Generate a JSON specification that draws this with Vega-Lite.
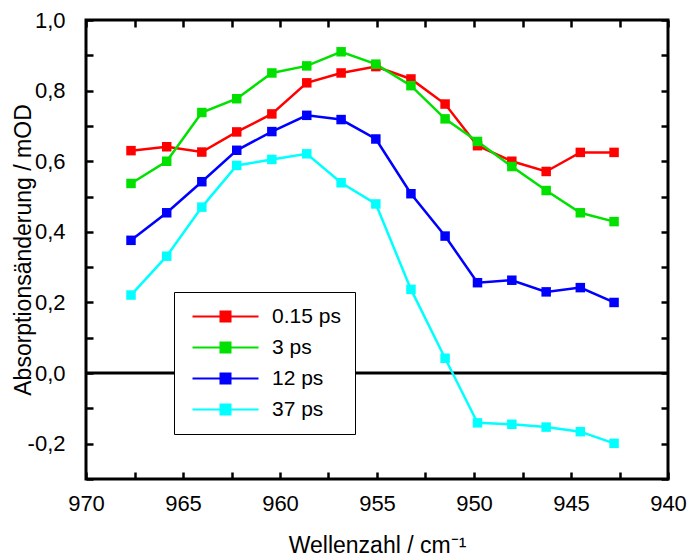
{
  "$schema": "https://vega.github.io/schema/vega-lite/v6.json",
  "width": 582,
  "height": 459,
  "autosize": {"type": "none"},
  "padding": {"left": 86, "top": 20, "right": 22, "bottom": 77},
  "background": "white",
  "config": {
    "view": {"stroke": "black", "strokeWidth": 3},
    "font": "Liberation Sans",
    "axis": {
      "labelFont": "Liberation Sans",
      "titleFont": "Liberation Sans",
      "labelColor": "black",
      "titleColor": "black",
      "ticks": true,
      "tickColor": "black",
      "tickOpacity": 1,
      "tickWidth": 2.5,
      "grid": false,
      "domain": false,
      "labelFlush": false,
      "zindex": 1
    }
  },
  "datasets": {
    "spectra": [
      {"Zeit": "0.15 ps", "x": 967.68, "y": 0.630},
      {"Zeit": "0.15 ps", "x": 965.84, "y": 0.641},
      {"Zeit": "0.15 ps", "x": 964.03, "y": 0.626},
      {"Zeit": "0.15 ps", "x": 962.23, "y": 0.683},
      {"Zeit": "0.15 ps", "x": 960.42, "y": 0.734},
      {"Zeit": "0.15 ps", "x": 958.62, "y": 0.822},
      {"Zeit": "0.15 ps", "x": 956.85, "y": 0.850},
      {"Zeit": "0.15 ps", "x": 955.06, "y": 0.868},
      {"Zeit": "0.15 ps", "x": 953.25, "y": 0.833},
      {"Zeit": "0.15 ps", "x": 951.49, "y": 0.762},
      {"Zeit": "0.15 ps", "x": 949.82, "y": 0.644},
      {"Zeit": "0.15 ps", "x": 948.05, "y": 0.600},
      {"Zeit": "0.15 ps", "x": 946.28, "y": 0.571},
      {"Zeit": "0.15 ps", "x": 944.52, "y": 0.625},
      {"Zeit": "0.15 ps", "x": 942.78, "y": 0.625},
      {"Zeit": "3 ps", "x": 967.68, "y": 0.537},
      {"Zeit": "3 ps", "x": 965.84, "y": 0.600},
      {"Zeit": "3 ps", "x": 964.03, "y": 0.738},
      {"Zeit": "3 ps", "x": 962.23, "y": 0.777},
      {"Zeit": "3 ps", "x": 960.42, "y": 0.850},
      {"Zeit": "3 ps", "x": 958.62, "y": 0.870},
      {"Zeit": "3 ps", "x": 956.85, "y": 0.910},
      {"Zeit": "3 ps", "x": 955.06, "y": 0.875},
      {"Zeit": "3 ps", "x": 953.25, "y": 0.814},
      {"Zeit": "3 ps", "x": 951.49, "y": 0.720},
      {"Zeit": "3 ps", "x": 949.82, "y": 0.656},
      {"Zeit": "3 ps", "x": 948.05, "y": 0.585},
      {"Zeit": "3 ps", "x": 946.28, "y": 0.517},
      {"Zeit": "3 ps", "x": 944.52, "y": 0.454},
      {"Zeit": "3 ps", "x": 942.78, "y": 0.429},
      {"Zeit": "12 ps", "x": 967.68, "y": 0.376},
      {"Zeit": "12 ps", "x": 965.84, "y": 0.454},
      {"Zeit": "12 ps", "x": 964.03, "y": 0.542},
      {"Zeit": "12 ps", "x": 962.23, "y": 0.631},
      {"Zeit": "12 ps", "x": 960.42, "y": 0.684},
      {"Zeit": "12 ps", "x": 958.62, "y": 0.730},
      {"Zeit": "12 ps", "x": 956.85, "y": 0.718},
      {"Zeit": "12 ps", "x": 955.06, "y": 0.663},
      {"Zeit": "12 ps", "x": 953.25, "y": 0.508},
      {"Zeit": "12 ps", "x": 951.49, "y": 0.388},
      {"Zeit": "12 ps", "x": 949.82, "y": 0.256},
      {"Zeit": "12 ps", "x": 948.05, "y": 0.263},
      {"Zeit": "12 ps", "x": 946.28, "y": 0.230},
      {"Zeit": "12 ps", "x": 944.52, "y": 0.242},
      {"Zeit": "12 ps", "x": 942.78, "y": 0.200},
      {"Zeit": "37 ps", "x": 967.68, "y": 0.221},
      {"Zeit": "37 ps", "x": 965.84, "y": 0.331},
      {"Zeit": "37 ps", "x": 964.03, "y": 0.470},
      {"Zeit": "37 ps", "x": 962.23, "y": 0.588},
      {"Zeit": "37 ps", "x": 960.42, "y": 0.605},
      {"Zeit": "37 ps", "x": 958.62, "y": 0.621},
      {"Zeit": "37 ps", "x": 956.85, "y": 0.539},
      {"Zeit": "37 ps", "x": 955.06, "y": 0.479},
      {"Zeit": "37 ps", "x": 953.25, "y": 0.237},
      {"Zeit": "37 ps", "x": 951.49, "y": 0.042},
      {"Zeit": "37 ps", "x": 949.82, "y": -0.141},
      {"Zeit": "37 ps", "x": 948.05, "y": -0.145},
      {"Zeit": "37 ps", "x": 946.28, "y": -0.153},
      {"Zeit": "37 ps", "x": 944.52, "y": -0.166},
      {"Zeit": "37 ps", "x": 942.78, "y": -0.199}
    ],
    "zero": [{"y": 0}]
  },
  "layer": [
    {
      "data": {"name": "zero"},
      "mark": {"type": "rule", "color": "black", "strokeWidth": 3},
      "encoding": {
        "y": {"field": "y", "type": "quantitative", "axis": null,
              "scale": {"domain": [-0.3, 1.0], "nice": false, "zero": false}}
      }
    },
    {
      "data": {"name": "spectra"},
      "mark": {"type": "line", "strokeWidth": 2.5,
               "point": {"shape": "square", "size": 90, "filled": true, "opacity": 1}},
      "encoding": {
        "x": {
          "field": "x", "type": "quantitative",
          "scale": {"domain": [940, 970], "reverse": true, "nice": false, "zero": false},
          "axis": {
            "orient": "bottom",
            "offset": -7,
            "values": [940, 942.5, 945, 947.5, 950, 952.5, 955, 957.5, 960, 962.5, 965, 967.5, 970],
            "labelExpr": "datum.value % 5 === 0 ? format(datum.value, 'd') : ''",
            "tickSize": 7,
            "labelFontSize": 22,
            "labelPadding": 14,
            "title": "Wellenzahl / cm⁻¹",
            "titleFontSize": 23,
            "titleFontWeight": "normal",
            "titlePadding": 20
          }
        },
        "y": {
          "field": "y", "type": "quantitative",
          "scale": {"domain": [-0.3, 1.0], "nice": false, "zero": false},
          "axis": {
            "orient": "left",
            "offset": -7,
            "values": [-0.3, -0.2, -0.1, 0, 0.1, 0.2, 0.3, 0.4, 0.5, 0.6, 0.7, 0.8, 0.9, 1.0],
            "labelExpr": "abs(round(datum.value * 10)) % 2 === 0 ? replace(replace(format(datum.value, '.1f'), '.', ','), '\u2212', '-') : ''",
            "tickSize": 7,
            "labelFontSize": 22,
            "labelPadding": 21,
            "title": "Absorptionsänderung / mOD",
            "titleFontSize": 23,
            "titleFontWeight": "normal",
            "titleX": -70,
            "titleBaseline": "middle"
          }
        },
        "color": {
          "field": "Zeit", "type": "nominal",
          "scale": {"domain": ["0.15 ps", "3 ps", "12 ps", "37 ps"],
                    "range": ["#FF0000", "#00E100", "#0000FF", "#00FFFF"]},
          "legend": {
            "orient": "none",
            "legendX": 88,
            "legendY": 272,
            "title": null,
            "fillColor": "white",
            "strokeColor": "black",
            "padding": 14,
            "labelFontSize": 21,
            "labelFont": "Liberation Sans",
            "labelColor": "black",
            "labelOffset": 63,
            "rowPadding": 9,
            "symbolType": "M-1,-0.17H10V0.17H-1Z M3.5,-1H5.5V1H3.5Z",
            "symbolSize": 144,
            "symbolStrokeWidth": 0,
            "encode": {
              "symbols": {
                "update": {
                  "fill": {"scale": "color", "field": "value"},
                  "fillOpacity": {"value": 1},
                  "opacity": {"value": 1},
                  "strokeWidth": {"value": 0}
                }
              }
            }
          }
        }
      }
    },
    {
      "data": {"name": "spectra"},
      "mark": {"type": "point", "opacity": 0},
      "encoding": {
        "x": {
          "field": "x", "type": "quantitative",
          "axis": {
            "orient": "top",
            "offset": -7,
            "values": [940, 942.5, 945, 947.5, 950, 952.5, 955, 957.5, 960, 962.5, 965, 967.5, 970],
            "labels": false,
            "tickSize": 7,
            "title": null
          }
        },
        "y": {
          "field": "y", "type": "quantitative",
          "axis": {
            "orient": "right",
            "offset": -7,
            "values": [-0.3, -0.2, -0.1, 0, 0.1, 0.2, 0.3, 0.4, 0.5, 0.6, 0.7, 0.8, 0.9, 1.0],
            "labels": false,
            "tickSize": 7,
            "title": null
          }
        }
      }
    }
  ],
  "resolve": {"axis": {"x": "independent", "y": "independent"}}
}
